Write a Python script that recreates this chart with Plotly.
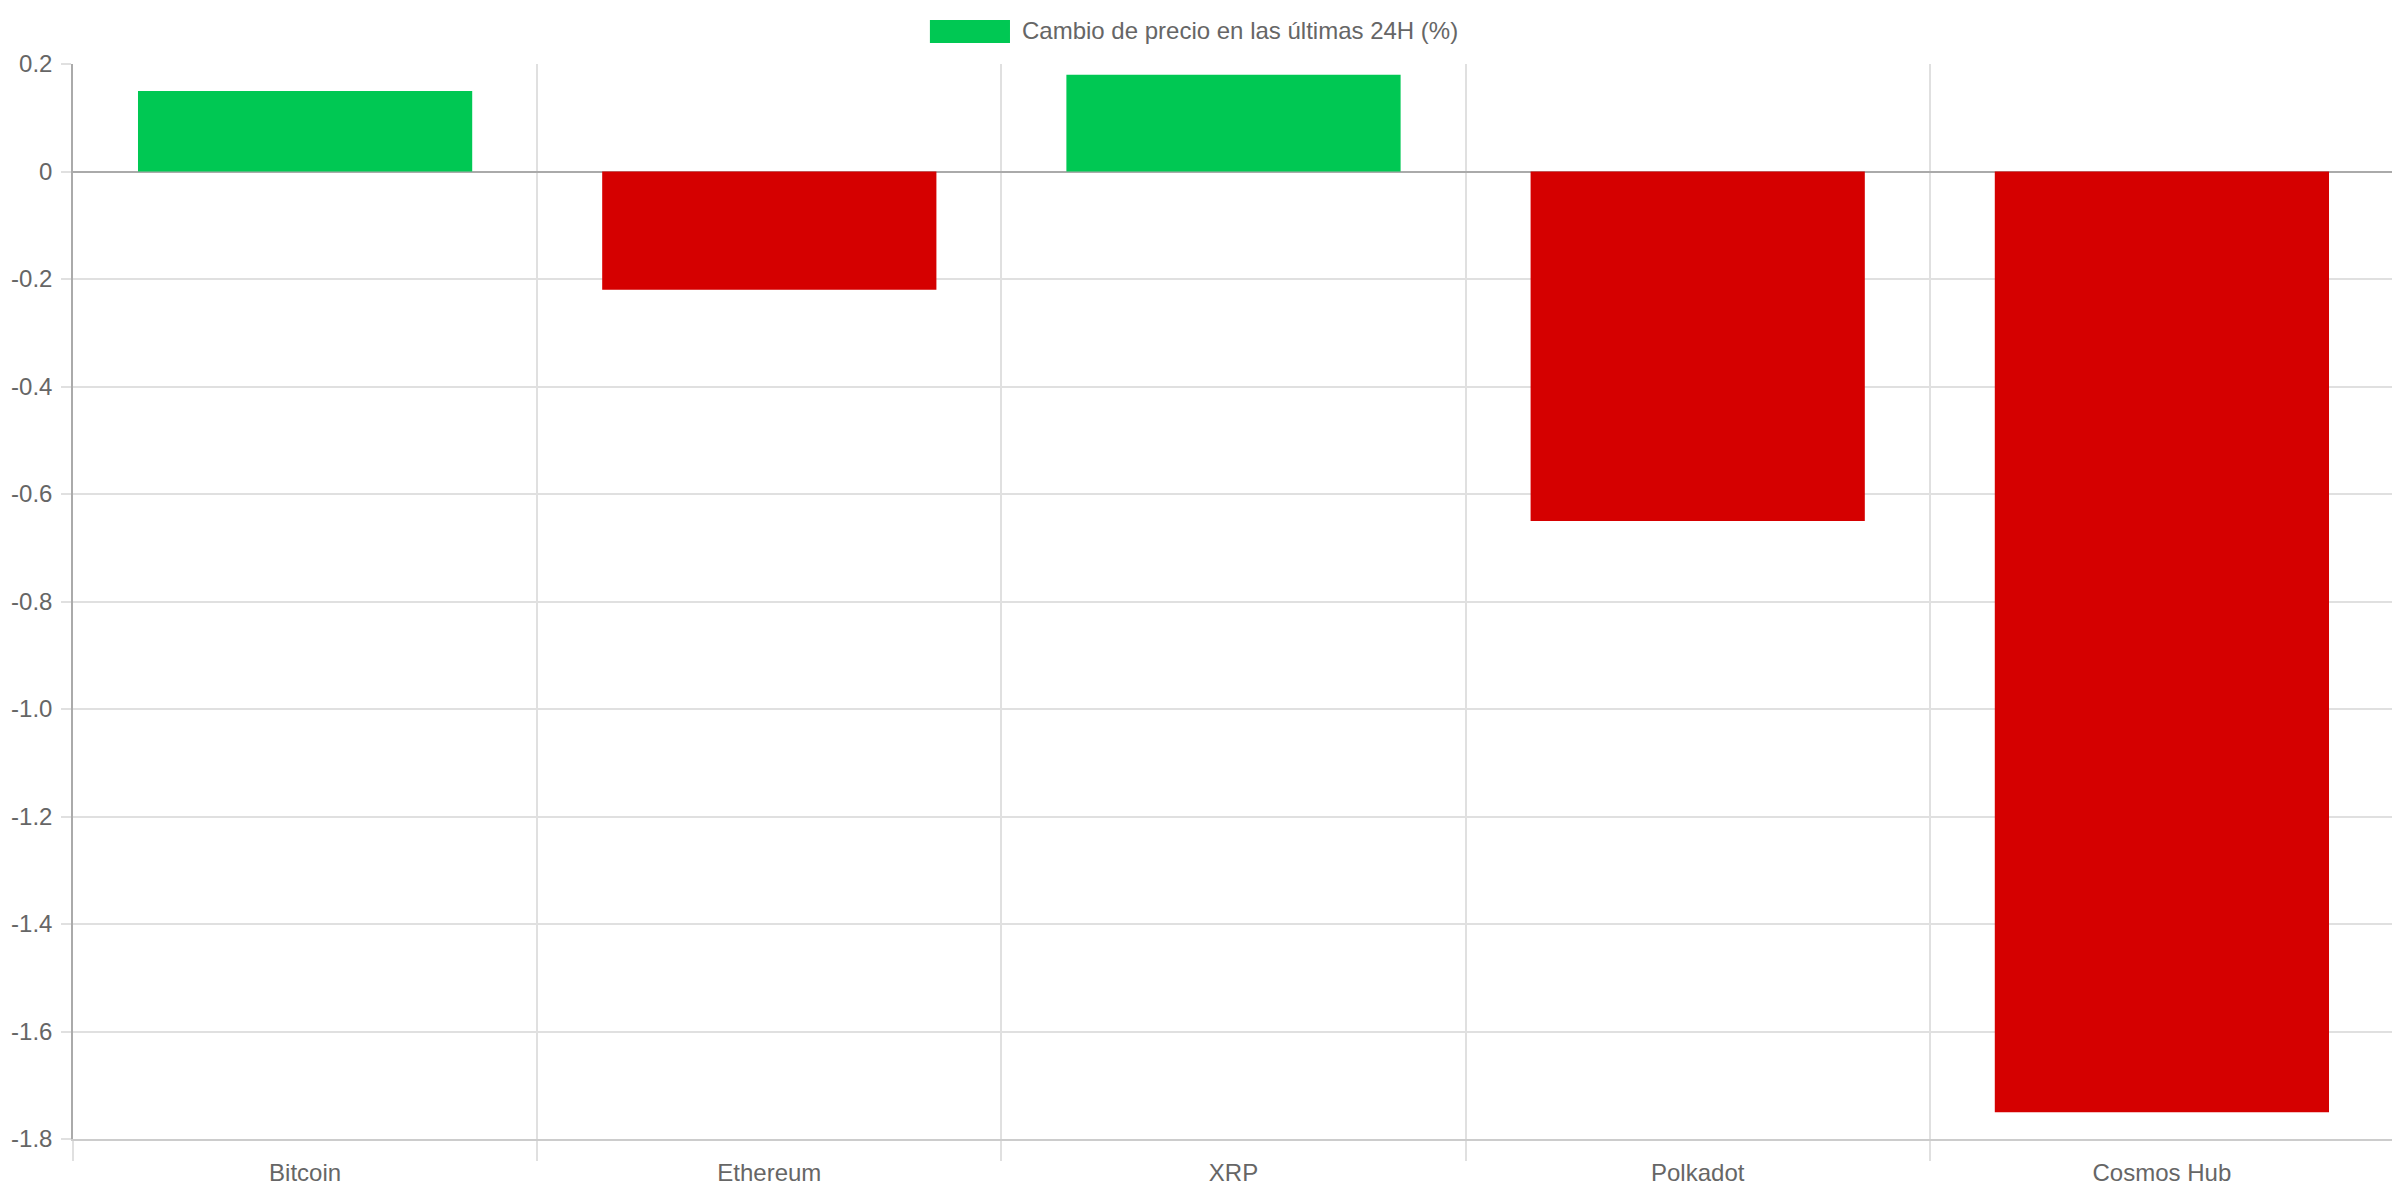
import plotly.graph_objects as go

# Price change over the last 24h (%), per coin
coins = ["Bitcoin", "Ethereum", "XRP", "Polkadot", "Cosmos Hub"]
change_24h = [0.15, -0.22, 0.18, -0.65, -1.75]

y_ticks = [0.2, 0, -0.2, -0.4, -0.6, -0.8, -1.0, -1.2, -1.4, -1.6, -1.8]
y_tick_text = ["0.2", "0", "-0.2", "-0.4", "-0.6", "-0.8", "-1.0", "-1.2", "-1.4", "-1.6", "-1.8"]

series_name = "Cambio de precio en las últimas 24H (%)"

GREEN = "#00C853"
RED = "#D50000"
TEXT = "#666666"
GRID = "#e0e0e0"

bar_colors = [GREEN if v >= 0 else RED for v in change_24h]

fig = go.Figure(go.Bar(
    x=coins,
    y=change_24h,
    name=series_name,
    marker=dict(color=bar_colors, line=dict(width=0)),
    showlegend=False,
))

# legend drawn by hand so the swatch matches the wide box of the original
fig.add_shape(type="rect", xref="paper", yref="paper",
              x0=0.3692, x1=0.4037, y0=1.0195, y1=1.0409,
              fillcolor=GREEN, line=dict(width=0))
fig.add_annotation(text=series_name, xref="paper", yref="paper",
                   x=0.4082, y=1.0307, xanchor="left", yanchor="middle",
                   showarrow=False, font=dict(size=24, color=TEXT))

fig.update_layout(
    width=2400,
    height=1200,
    margin=dict(l=65, r=14, t=56, b=69),
    plot_bgcolor="#ffffff",
    paper_bgcolor="#ffffff",
    font=dict(family="Liberation Sans, Arial, sans-serif", size=24, color=TEXT),
    bargap=0.28,
)

fig.update_xaxes(
    type="category",
    tickson="boundaries",
    showgrid=True,
    gridcolor=GRID,
    gridwidth=1.5,
    ticks="outside",
    ticklen=20,
    tickcolor=GRID,
    tickwidth=1.5,
    ticklabelstandoff=11,
    showline=True,
    linecolor="#cccccc",
    linewidth=1.5,
    automargin=False,
)

fig.update_yaxes(
    range=[-1.8, 0.2],
    tickvals=y_ticks,
    ticktext=y_tick_text,
    showgrid=True,
    gridcolor=GRID,
    gridwidth=1.5,
    zeroline=True,
    zerolinecolor="#aaaaaa",
    zerolinewidth=1.5,
    ticks="outside",
    ticklen=10,
    tickcolor=GRID,
    tickwidth=1.5,
    ticklabelstandoff=4,
    showline=True,
    linecolor="#aaaaaa",
    linewidth=1.5,
    automargin=False,
)

fig.write_html("out.html")
